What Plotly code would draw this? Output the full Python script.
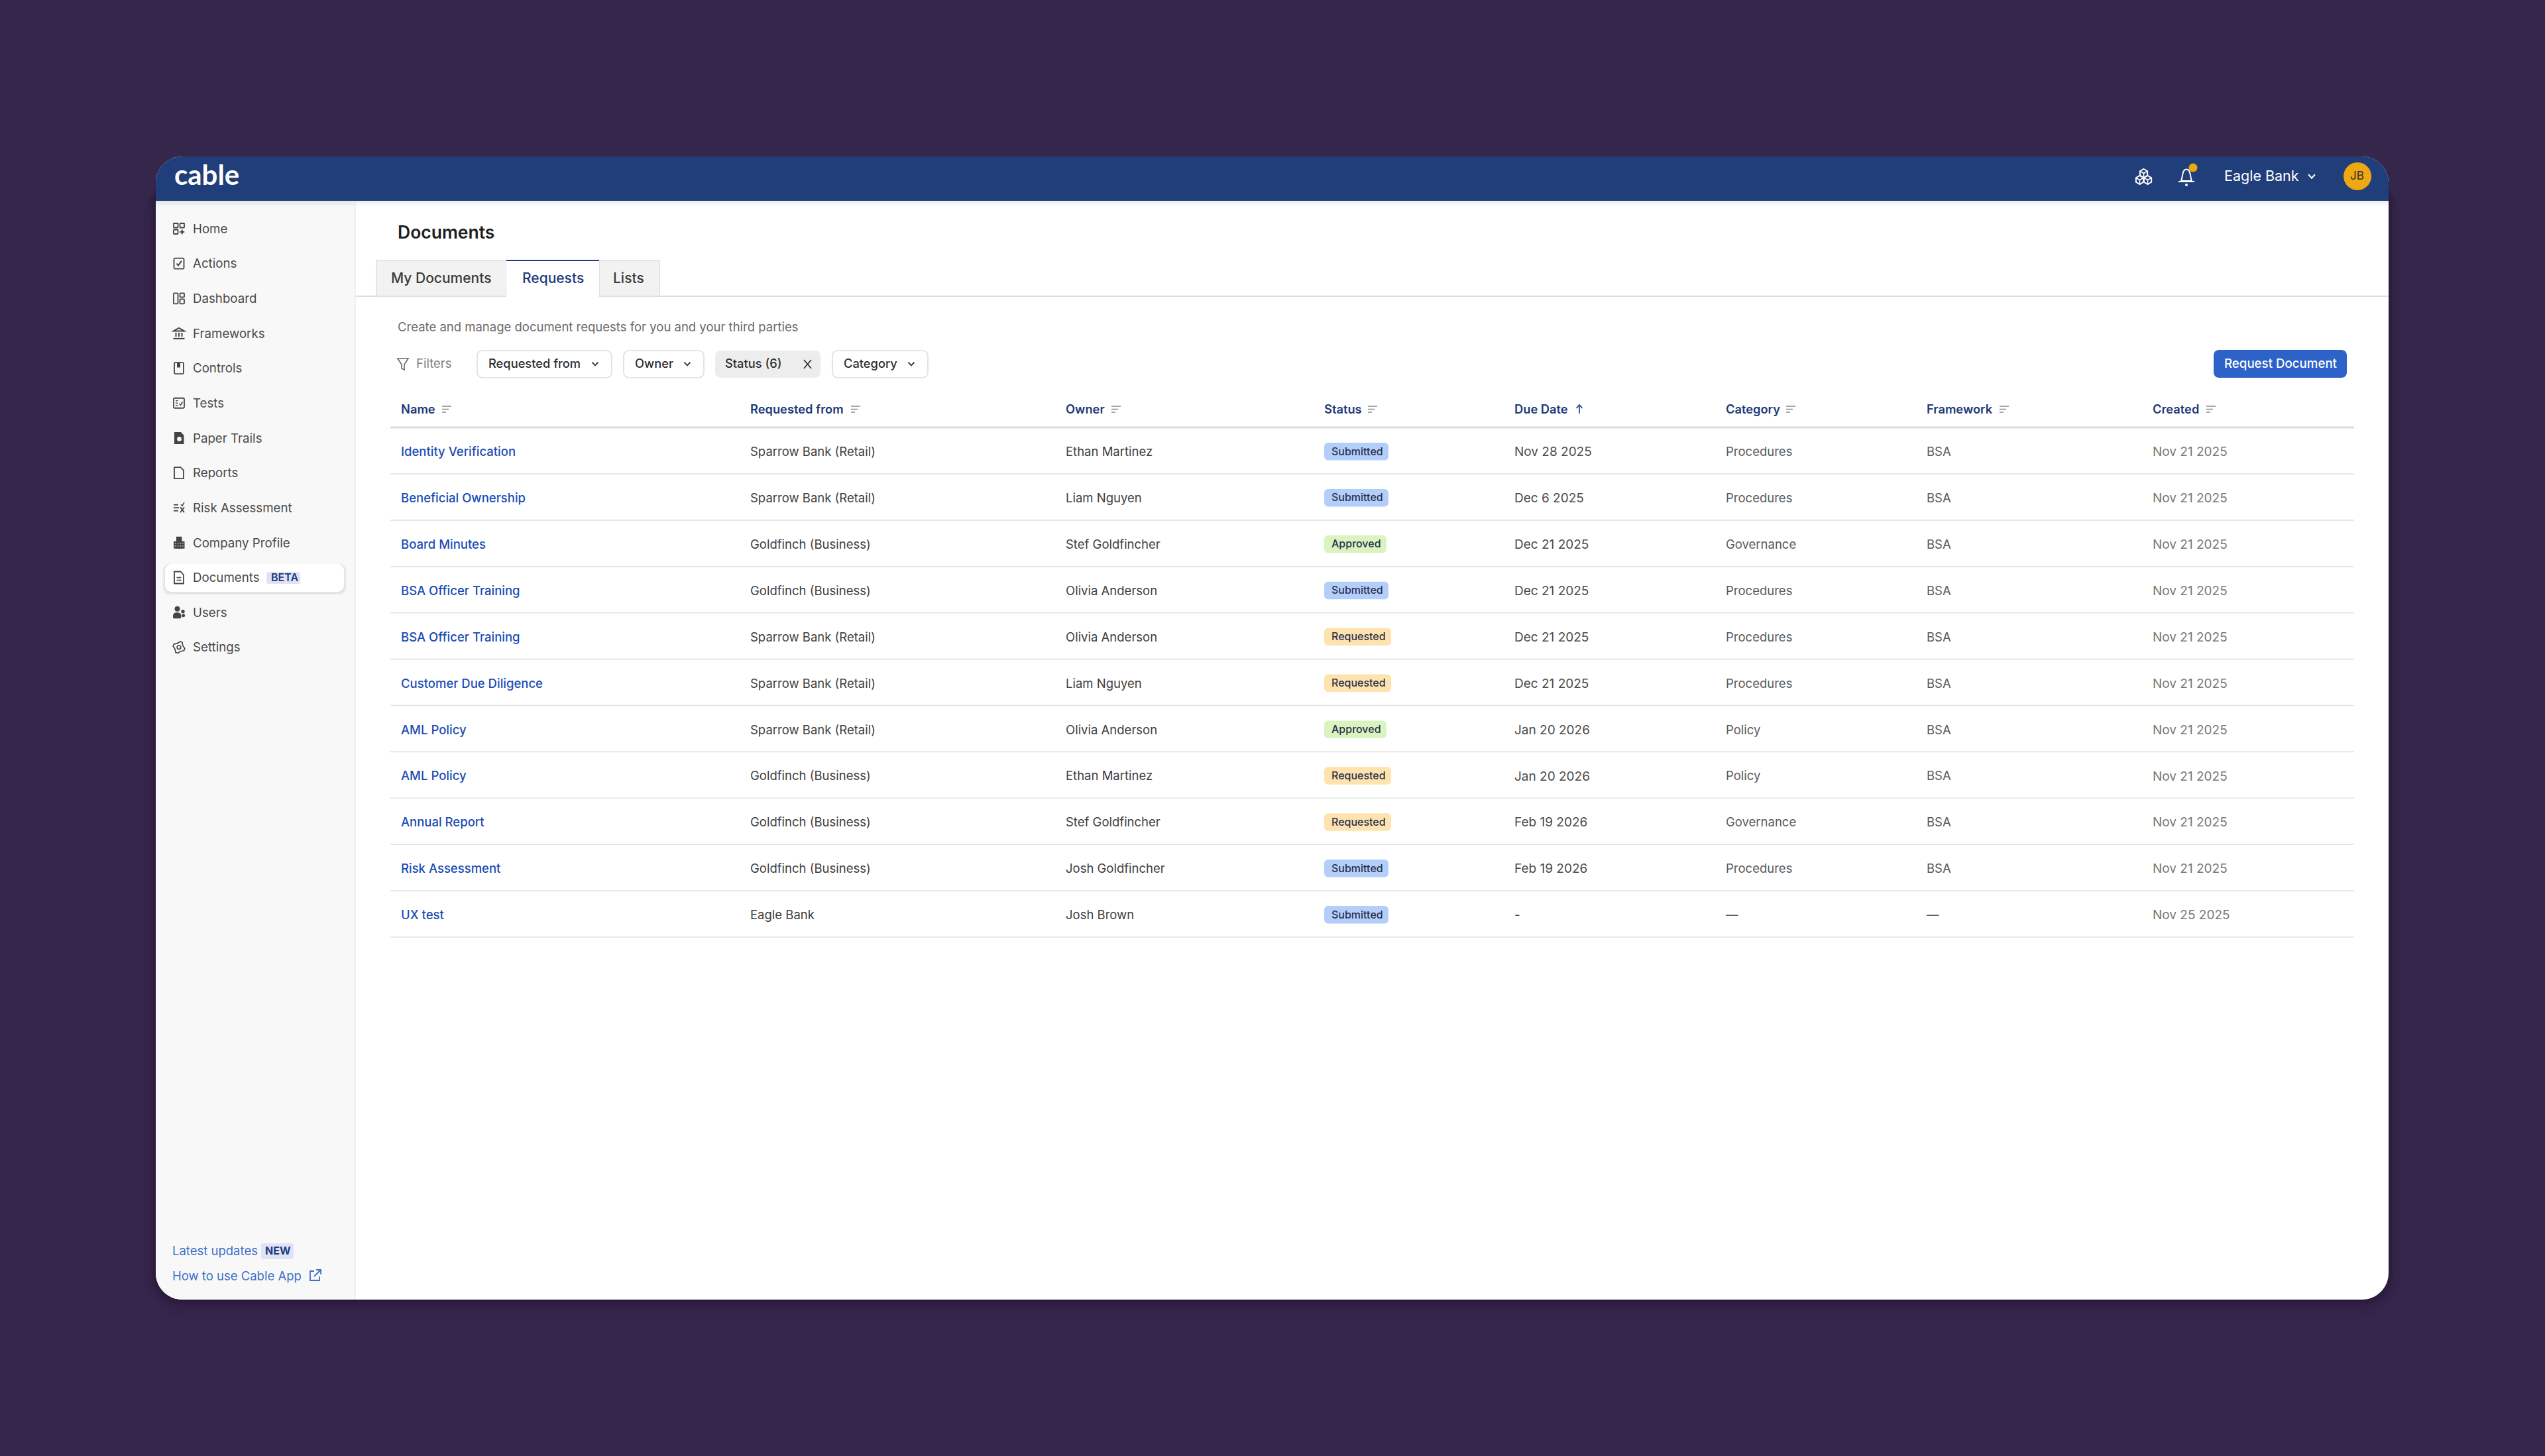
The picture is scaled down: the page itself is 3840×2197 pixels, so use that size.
import math
import plotly.graph_objects as go

W, H = 3840, 2197

# table content
NAMES = ["Identity Verification", "Beneficial Ownership", "Board Minutes", "BSA Officer Training",
         "BSA Officer Training", "Customer Due Diligence", "AML Policy", "AML Policy",
         "Annual Report", "Risk Assessment", "UX test"]
REQUESTED_FROM = ["Sparrow Bank (Retail)", "Sparrow Bank (Retail)", "Goldfinch (Business)", "Goldfinch (Business)",
                  "Sparrow Bank (Retail)", "Sparrow Bank (Retail)", "Sparrow Bank (Retail)", "Goldfinch (Business)",
                  "Goldfinch (Business)", "Goldfinch (Business)", "Eagle Bank"]
OWNERS = ["Ethan Martinez", "Liam Nguyen", "Stef Goldfincher", "Olivia Anderson", "Olivia Anderson", "Liam Nguyen",
          "Olivia Anderson", "Ethan Martinez", "Stef Goldfincher", "Josh Goldfincher", "Josh Brown"]
STATUSES = ["Submitted", "Submitted", "Approved", "Submitted", "Requested", "Requested", "Approved", "Requested",
            "Requested", "Submitted", "Submitted"]
DUE_DATES = ["Nov 28 2025", "Dec 6 2025", "Dec 21 2025", "Dec 21 2025", "Dec 21 2025", "Dec 21 2025",
             "Jan 20 2026", "Jan 20 2026", "Feb 19 2026", "Feb 19 2026", "-"]
CATEGORIES = ["Procedures", "Procedures", "Governance", "Procedures", "Procedures", "Procedures", "Policy", "Policy",
              "Governance", "Procedures", "—"]
FRAMEWORKS = ["BSA", "BSA", "BSA", "BSA", "BSA", "BSA", "BSA", "BSA", "BSA", "BSA", "—"]
CREATED = ["Nov 21 2025", "Nov 21 2025", "Nov 21 2025", "Nov 21 2025", "Nov 21 2025", "Nov 21 2025", "Nov 21 2025",
           "Nov 21 2025", "Nov 21 2025", "Nov 21 2025", "Nov 25 2025"]
HEADERS = ["Name", "Requested from", "Owner", "Status", "Due Date", "Category", "Framework", "Created"]
NAV_ITEMS = ["Home", "Actions", "Dashboard", "Frameworks", "Controls", "Tests", "Paper Trails", "Reports",
             "Risk Assessment", "Company Profile", "Documents", "Users", "Settings"]

# layout, in page pixels
COL_X = [605, 1132, 1608, 1998, 2285, 2604, 2907, 3248]
SORT_X = [667, 1284, 1677, 2064, 2383, 2695, 3017, 3329]
ROW_Y = [681.5 + 69.9 * i for i in range(len(NAMES))]
NAV_Y = [345 + 52.65 * i for i in range(len(NAV_ITEMS))]
PILL_W = {"Submitted": 97, "Approved": 94, "Requested": 101}
PILL_BG = {"Submitted": "#B4CEFA", "Approved": "#DAF3BF", "Requested": "#FEE3AF"}

FONT = "Inter"
BG = "#35264B"
NAVY = "#1F3E7A"
HEAD_BLUE = "#1E3A78"
LINK = "#1A4DB5"
TEXT = "#404040"
TEXT_DY = 2

shapes = []


def rr(x0, y0, x1, y1, tl=0, tr=None, br=None, bl=None):
    tr = tl if tr is None else tr
    br = tl if br is None else br
    bl = tl if bl is None else bl
    k = 0.45
    return (f"M{x0+tl},{y0} L{x1-tr},{y0} C{x1-tr*k},{y0} {x1},{y0+tr*k} {x1},{y0+tr} "
            f"L{x1},{y1-br} C{x1},{y1-br*k} {x1-br*k},{y1} {x1-br},{y1} "
            f"L{x0+bl},{y1} C{x0+bl*k},{y1} {x0},{y1-bl*k} {x0},{y1-bl} "
            f"L{x0},{y0+tl} C{x0},{y0+tl*k} {x0+tl*k},{y0} {x0+tl},{y0} Z")


def fill(path, color, line=None, lw=0):
    shapes.append(dict(type="path", path=path, fillcolor=color, layer="below",
                       line=dict(color=line or "rgba(0,0,0,0)", width=lw)))


def stroke(pts, color, lw=2, close=False):
    p = "M" + " L".join(f"{x},{y}" for x, y in pts) + (" Z" if close else "")
    shapes.append(dict(type="path", path=p, layer="below", line=dict(color=color, width=lw)))


def circle(cx, cy, r, color=None, line=None, lw=0):
    shapes.append(dict(type="circle", x0=cx - r, x1=cx + r, y0=cy - r, y1=cy + r, layer="below",
                       fillcolor=color or "rgba(0,0,0,0)", line=dict(color=line or "rgba(0,0,0,0)", width=lw)))


def chevron(cx, cy, color="#333333", s=4.5, lw=1.8):
    stroke([(cx - s, cy - s * 0.55), (cx, cy + s * 0.55), (cx + s, cy - s * 0.55)], color, lw)


def box(cx, cy, x0, y0, x1, y1, color, lw=1.8, r=1.5):
    fill(rr(cx + x0, cy + y0, cx + x1, cy + y1, r), "rgba(0,0,0,0)", color, lw)


def cube(cx, cy, r, color, lw=2):
    hexagon = [(cx + r * math.sin(k * math.pi / 3), cy - r * math.cos(k * math.pi / 3)) for k in range(6)]
    stroke(hexagon, color, lw, close=True)
    stroke([hexagon[5], (cx, cy), hexagon[1]], color, lw * 0.8)
    stroke([(cx, cy), hexagon[3]], color, lw * 0.8)


def nav_icon(name, cx, cy):
    c = "#444444"
    if name == "Home":
        box(cx, cy, -8, -8, -1.5, -1.5, c, r=0.5)
        box(cx, cy, 1.5, -8, 8, -1.5, c, r=0.5)
        box(cx, cy, -8, 1.5, -1.5, 8, c, r=0.5)
        stroke([(4.7 + cx, 1.5 + cy), (4.7 + cx, 8.5 + cy)], c)
        stroke([(1.2 + cx, 5 + cy), (8.2 + cx, 5 + cy)], c)
    elif name == "Actions":
        box(cx, cy, -7.5, -8, 7.5, 8, c)
        stroke([(cx - 3.5, cy), (cx - 1, cy + 3), (cx + 4, cy - 4)], c)
    elif name == "Dashboard":
        box(cx, cy, -8, -8, -1.5, 8, c, r=0.8)
        box(cx, cy, 1.5, -8, 8, -2, c, r=0.8)
        box(cx, cy, 1.5, 1, 8, 8, c, r=0.8)
    elif name == "Frameworks":
        stroke([(cx - 8, cy - 3.5), (cx, cy - 8), (cx + 8, cy - 3.5)], c, close=True)
        for dx in (-4.5, 0, 4.5):
            stroke([(cx + dx, cy - 1), (cx + dx, cy + 5)], c)
        stroke([(cx - 8.5, cy + 8), (cx + 8.5, cy + 8)], c, 2.2)
    elif name == "Controls":
        box(cx, cy, -7, -8.5, 7, 8.5, c)
        fill(rr(cx - 3, cy - 8, cx + 2, cy - 1, 0), c)
    elif name == "Tests":
        box(cx, cy, -8, -7.5, 8, 7.5, c)
        for dy in (-3.5, 0, 3.5):
            stroke([(cx - 5, cy + dy), (cx - 1.5, cy + dy)], c, 1.4)
        stroke([(cx + 0.5, cy + 1), (cx + 2.5, cy + 3), (cx + 5.5, cy - 2)], c, 1.5)
    elif name == "Paper Trails":
        fill(f"M{cx-7},{cy-9} L{cx+3},{cy-9} L{cx+7.5},{cy-4} L{cx+7.5},{cy+9} L{cx-7},{cy+9} Z", c)
        circle(cx + 0.5, cy + 1.5, 3.4, "#F8F8F8", None)
    elif name == "Reports":
        stroke([(cx - 7, cy - 8.5), (cx + 2.5, cy - 8.5), (cx + 7, cy - 4), (cx + 7, cy + 8.5), (cx - 7, cy + 8.5)],
               c, 1.8, close=True)
    elif name == "Risk Assessment":
        for dy in (-4.5, 0, 4.5):
            stroke([(cx - 8, cy + dy), (cx + (-1 if dy else 0), cy + dy)], c, 1.8)
        stroke([(cx + 2, cy - 1), (cx + 8, cy + 7)], c, 1.8)
        stroke([(cx + 8, cy - 1), (cx + 2, cy + 7)], c, 1.8)
        stroke([(cx + 3, cy - 5), (cx + 5, cy - 3), (cx + 8, cy - 8)], c, 1.5)
    elif name == "Company Profile":
        fill(rr(cx - 8, cy - 2, cx + 8.5, cy + 9, 0), c)
        fill(rr(cx - 4, cy - 9, cx + 4.5, cy + 9, 0), c)
        for dx in (-5.5, -1.5, 2.5, 6):
            for dy in (1, 5):
                fill(rr(cx + dx - 0.7, cy + dy - 0.7, cx + dx + 0.7, cy + dy + 0.7, 0), "#F8F8F8")
    elif name == "Documents":
        stroke([(cx - 7, cy - 9), (cx + 2.5, cy - 9), (cx + 7, cy - 4), (cx + 7, cy + 9), (cx - 7, cy + 9)],
               c, 1.8, close=True)
        for dy in (0, 4):
            stroke([(cx - 3.5, cy + dy), (cx + 3.5, cy + dy)], c, 1.6)
    elif name == "Users":
        circle(cx - 2.5, cy - 5.5, 4, c)
        fill(rr(cx - 9, cy, cx + 3.5, cy + 9, 5, 5, 2, 2), c)
        circle(cx + 6, cy - 1.5, 2.7, c)
        fill(rr(cx + 4.5, cy + 2, cx + 9, cy + 7, 2), c)
    elif name == "Settings":
        pts = []
        for k in range(16):
            a = k * math.pi / 8 + math.pi / 16
            r = 9 if k % 4 < 2 else 6.8
            pts.append((cx + r * math.cos(a), cy + r * math.sin(a)))
        stroke(pts, c, 1.7, close=True)
        circle(cx, cy, 2.8, None, c, 1.7)


# page shadow under the card, then card
for grow, op in ((30, 0.03), (22, 0.05), (14, 0.08), (8, 0.10), (3, 0.14)):
    fill(rr(235 - grow * 0.6, 260, 3604 + grow * 0.6, 1961 + grow, 40 + grow), f"rgba(20,10,35,{op})")
fill(rr(235, 236, 3604, 1961, 40), "#FFFFFF")
# sidebar
fill(rr(235, 303, 536, 1961, 0, 0, 0, 40), "#F8F8F8")
stroke([(536, 303), (536, 1961)], "#ECECEC", 1.5)
# header bar and its soft shadow
for i, op in enumerate((0.07, 0.05, 0.03, 0.015)):
    fill(rr(235, 303 + i * 2, 3604, 305 + i * 2, 0), f"rgba(0,0,0,{op})")
fill(rr(235, 236, 3604, 303, 40, 40, 0, 0), NAVY)

# active nav row
for grow, op in ((4, 0.03), (2, 0.05)):
    fill(rr(249 - grow, 851, 519 + grow, 893 + grow + 1, 10), f"rgba(0,0,0,{op})")
fill(rr(249, 851, 519, 893, 10), "#FFFFFF")
fill(rr(402, 863, 453, 881, 2), "#E0E2F7")
for name, y in zip(NAV_ITEMS, NAV_Y):
    nav_icon(name, 270, y)

# sidebar footer
fill(rr(394, 1876, 443, 1900, 3), "#E0E2F7")
stroke([(474, 1918), (468, 1918), (468, 1932), (482, 1932), (482, 1926)], "#3F70C8", 1.8)
stroke([(474, 1926), (484, 1916)], "#3F70C8", 1.8)
stroke([(477, 1916), (484, 1916), (484, 1923)], "#3F70C8", 1.8)

# header right
cube(3234.5, 261.5, 6.5, "#FFFFFF")
cube(3228.5, 271.5, 6.5, "#FFFFFF")
cube(3240.5, 271.5, 6.5, "#FFFFFF")
fill(f"M3291,273 C3293,268 3293,262 3294,260 C3296,254 3302,254 3304,260 C3305,262 3305,268 3307,273 Z",
     "rgba(0,0,0,0)", "#FFFFFF", 2)
stroke([(3287, 274), (3311, 274)], "#FFFFFF", 2)
circle(3299, 279, 2, "#FFFFFF")
circle(3309, 253, 6.5, "#EDA812")
chevron(3488, 266, "#FFFFFF", 5, 2)
circle(3557, 266, 21, "#EDA812")

# tabs
stroke([(536, 447), (3604, 447)], "#DEDEDE", 2)
fill(rr(568, 393, 764, 447, 0), "#F2F2F2", "#DEDEDE", 1.5)
fill(rr(904, 393, 995, 447, 0), "#F2F2F2", "#DEDEDE", 1.5)
fill(rr(764, 393, 904, 448.5, 0), "#FFFFFF")
stroke([(764, 393), (904, 393)], NAVY, 2)

# filter row
stroke([(600, 541), (616, 541), (610, 550), (610, 558), (606, 556), (606, 550)], "#666666", 1.6, close=True)
fill(rr(720, 529, 923, 570, 8), "#FFFFFF", "#DEDEDE", 1.6)
chevron(898, 549)
fill(rr(941, 529, 1062, 570, 8), "#FFFFFF", "#DEDEDE", 1.6)
chevron(1037, 549)
fill(rr(1079, 529, 1238, 570, 8), "#EDEDED")
stroke([(1213, 543), (1224, 556)], "#333333", 1.8)
stroke([(1224, 543), (1213, 556)], "#333333", 1.8)
fill(rr(1256, 529, 1400, 570, 8), "#FFFFFF", "#DEDEDE", 1.6)
chevron(1375, 549)
fill(rr(3340, 528, 3541, 570, 8), "#2D62C8")

# table rules and sort icons
stroke([(589, 645), (3552, 645)], "#DDDDDD", 3)
for y in ROW_Y:
    stroke([(589, y + 33.5), (3552, y + 33.5)], "#E2E2E2", 1.6)
for head, sx in zip(HEADERS, SORT_X):
    if head == "Due Date":
        stroke([(sx, 611), (sx, 624)], HEAD_BLUE, 1.6)
        stroke([(sx - 4.5, 616), (sx, 611), (sx + 4.5, 616)], HEAD_BLUE, 1.6)
    else:
        for k, w in enumerate((14, 10, 6)):
            stroke([(sx, 613 + k * 4.5), (sx + w, 613 + k * 4.5)], "#8A8A8A", 1.5)

# status pills
for status, y in zip(STATUSES, ROW_Y):
    fill(rr(1998, y - 13.5, 1998 + PILL_W[status], y + 13, 6), PILL_BG[status])

fig = go.Figure()


def add_text(xs, ys, texts, size, color, weight=400, family=FONT):
    fig.add_trace(go.Scatter(x=xs, y=[y + TEXT_DY for y in ys], text=texts, mode="text",
                             textposition="middle right",
                             textfont=dict(family=family, size=size, color=color, weight=weight),
                             hoverinfo="skip", showlegend=False))


n = len(NAMES)
add_text([263], [266], ["cable"], 42, "#FFFFFF", 700, "Lato")
add_text([291] * len(NAV_ITEMS), NAV_Y, NAV_ITEMS, 18.7, "#4A4A4A")
add_text([409], [871], ["BETA"], 16, HEAD_BLUE, 600)
add_text([260, 260], [1887, 1925], ["Latest updates", "How to use Cable App"], 18.5, "#3F70C8")
add_text([400], [1887], ["NEW"], 16, HEAD_BLUE, 700)
add_text([3356], [266], ["Eagle Bank"], 21.5, "#FFFFFF", 400)
add_text([3546], [265], ["JB"], 17, "#33302A")
add_text([600], [351], ["Documents"], 26.5, "#1E1E1E", 600)
add_text([590, 925], [420, 420], ["My Documents", "Lists"], 21, "#3A3A3A", 500)
add_text([788], [420], ["Requests"], 21, HEAD_BLUE, 500)
add_text([600], [493], ["Create and manage document requests for you and your third parties"], 18.5, "#6A6A6A")
add_text([628], [548], ["Filters"], 18.5, "#808080")
add_text([737, 958, 1094, 1273], [548] * 4, ["Requested from", "Owner", "Status (6)", "Category"], 18.3, "#2E2E2E", 500)
add_text([3356], [548], ["Request Document"], 18.7, "#FFFFFF", 500)
add_text(COL_X, [617] * len(HEADERS), HEADERS, 18.3, HEAD_BLUE, 600)
add_text([COL_X[0]] * n, ROW_Y, NAMES, 18.5, LINK, 500)
add_text([COL_X[1]] * n, ROW_Y, REQUESTED_FROM, 18.5, TEXT)
add_text([COL_X[2]] * n, ROW_Y, OWNERS, 18.5, TEXT)
add_text([COL_X[3] + 11] * n, [y - 1 for y in ROW_Y], STATUSES, 16, "#27324F", 500)
add_text([COL_X[4]] * n, ROW_Y, DUE_DATES, 19, "#4A4A4A")
add_text([COL_X[5]] * n, ROW_Y, CATEGORIES, 18.5, "#5A5A5A")
add_text([COL_X[6]] * n, ROW_Y, FRAMEWORKS, 18.5, "#5A5A5A")
add_text([COL_X[7]] * n, ROW_Y, CREATED, 19, "#777777")

fig.update_layout(
    width=W,
    height=H,
    margin=dict(l=0, r=0, t=0, b=0),
    paper_bgcolor=BG,
    plot_bgcolor=BG,
    shapes=shapes,
    xaxis=dict(range=[0, W], visible=False, fixedrange=True),
    yaxis=dict(range=[H, 0], visible=False, fixedrange=True),
)
fig.write_html("out.html", config={"displayModeBar": False},
               post_script="document.body.style.margin='0';document.body.style.overflow='hidden';")
